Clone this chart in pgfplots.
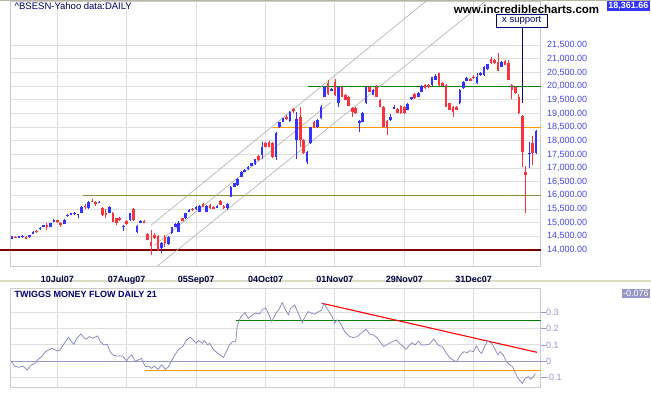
\documentclass[border=0pt]{standalone}
\usepackage{fontspec}
\setmainfont{Liberation Sans}
\usepackage{pgfplots}
\usepackage{pgfplotstable}
\pgfplotsset{compat=1.18}
\definecolor{cblue}{RGB}{51,51,255}
\definecolor{cred}{RGB}{250,51,60}
\definecolor{gridc}{RGB}{222,222,222}
\definecolor{axisc}{RGB}{205,205,205}
\definecolor{dred}{RGB}{128,0,0}
\definecolor{olivec}{RGB}{140,140,64}
\definecolor{orangec}{RGB}{255,153,0}
\definecolor{greenc}{RGB}{0,128,0}
\definecolor{chanc}{RGB}{175,175,175}
\definecolor{navyc}{RGB}{0,0,110}
\definecolor{datec}{RGB}{0,0,70}
\definecolor{ylabc}{RGB}{70,70,240}
\definecolor{mfc}{RGB}{130,130,190}
\definecolor{zeroc}{RGB}{150,150,205}
\definecolor{mflab}{RGB}{150,150,210}
\definecolor{tagc}{RGB}{150,150,200}
\definecolor{sepc}{RGB}{222,218,200}
\definecolor{topc}{RGB}{185,180,160}

% up candles: day open high low close
\pgfplotstableread{
d o h l c
-13 14415 14530 14400 14513
-11 14450 14515 14440 14500
-10 14465 14540 14455 14525
-8 14465 14550 14455 14535
-7 14585 14690 14570 14670
-5 14757 14840 14740 14818
-4 14842 14930 14830 14900
-2 14855 15000 14840 14977
-1 15025 15130 15010 15100
2 14965 15130 14950 15110
3 15233 15320 15220 15295
4 15280 15360 15265 15340
5 15305 15400 15290 15365
6 15270 15330 15160 15306
7 15365 15600 15340 15560
9 15525 15800 15500 15770
12 15735 15800 15720 15770
15 15365 15600 15350 15560
19 14830 14900 14710 14880
21 15100 15370 15080 15340
23 14670 14900 14640 14890
24 15000 15100 14990 15060
30 14060 14300 13880 14270
32 14220 14500 14200 14465
33 14610 14860 14600 14830
34 14855 14980 14840 14950
35 14670 15050 14650 15000
37 15160 15370 15140 15340
38 15400 15490 15380 15465
40 15490 15610 15470 15590
41 15405 15650 15390 15625
43 15405 15640 15390 15610
46 15540 15640 15520 15610
49 15525 15720 15460 15685
50 15955 16340 15940 16320
51 16320 16470 16300 16440
52 16380 16620 16360 16590
53 16685 16900 16670 16870
54 16870 16960 16850 16930
55 16955 17080 16940 17050
56 17090 17200 17070 17175
57 17150 17350 17130 17320
59 17480 17970 17320 17785
63 17420 18335 17300 18300
64 18490 18700 18470 18675
65 18700 18850 18680 18820
67 18740 19100 18700 19070
69 18030 19070 17320 18790
72 17235 17640 17150 17600
73 17930 18520 17900 18490
75 18490 18790 18470 18760
76 18820 19300 18800 19250
77 19620 19990 19600 19960
79 19840 19920 19820 19880
81 19370 20000 19250 19960
87 18660 18780 18330 18740
88 18700 19050 18680 19010
89 19370 20000 19350 19960
91 19680 19890 19660 19860
96 18760 18990 18740 18860
97 19180 19300 19160 19230
101 19130 19380 19110 19350
102 19520 19620 19500 19590
104 19620 19770 19600 19740
105 19800 20030 19780 20000
108 20040 20350 20020 20320
109 20230 20450 20210 20370
116 19370 19890 19350 19860
117 19920 20200 19900 20170
118 20200 20320 20180 20290
121 20100 20500 20080 20350
122 20410 20530 20390 20500
123 20410 20750 20390 20720
124 20620 20830 20600 20800
128 20720 20930 20700 20900
136 17520 17970 17000 17570
138 17540 18400 17520 18362
}\upt

% down candles
\pgfplotstableread{
d o h l c
-12 14488 14510 14430 14440
-9 14490 14500 14400 14420
-6 14710 14740 14640 14650
-3 14915 15000 14730 14830
0 15100 15110 15000 15015
1 14990 15040 14855 14915
8 15625 15685 15490 15560
10 15810 15870 15740 15750
11 15750 15780 15620 15685
13 15530 15560 15260 15280
14 15340 15490 15160 15280
16 15370 15400 15020 15040
17 15160 15190 14915 15000
18 15160 15220 15060 15100
20 15060 15090 14930 14950
22 15490 15530 15080 15100
25 15060 15090 14980 15000
26 14590 14620 14350 14370
27 14305 14730 13820 14150
28 14550 14610 14410 14430
29 14510 14540 13970 14000
31 14490 14550 14120 14245
36 15160 15190 15050 15075
39 15515 15540 15440 15465
42 15685 15710 15570 15590
44 15650 15680 15500 15525
45 15590 15620 15490 15515
47 15795 15830 15630 15650
48 15625 15650 15500 15525
58 17440 17490 17270 17295
60 17930 17960 17760 17785
61 17970 18000 17760 17785
62 17930 17960 17360 17420
66 18860 18960 18750 18790
68 19150 19210 19000 19090
70 18880 19220 17760 18030
71 18030 18060 17510 17540
74 18700 18730 18470 18490
78 20130 20230 19680 19700
80 20160 20280 19650 19680
82 19960 19990 19600 19620
83 19680 19710 19480 19500
84 19620 19650 19260 19280
85 19190 19220 18880 19070
86 19190 19220 18990 19010
90 19960 20000 19780 19800
92 19960 20050 19600 19620
93 19500 19530 19230 19250
94 19250 19280 18500 18520
95 18740 18770 18210 18520
98 19160 19190 19010 19030
99 19270 19300 18990 19010
100 19250 19280 18990 19010
103 19710 19740 19540 19560
106 20040 20070 19900 19920
107 20040 20070 19940 19960
110 20470 20500 20020 20040
111 20130 20160 19990 20010
112 20040 20070 19230 19250
113 19370 19400 19110 19130
114 19250 19280 18880 19070
115 19250 19280 19110 19130
119 20260 20300 20180 20200
120 20350 20420 20270 20290
125 20985 21080 20820 20840
126 20960 20990 20820 20840
127 20900 21230 20550 20570
129 20920 20950 20760 20780
130 20840 20960 20210 20230
131 20040 20070 19520 19860
132 19980 20020 19720 19740
133 19620 19720 18980 19000
134 18910 18940 17050 17600
135 16870 17080 15340 16750
137 17930 18170 17110 17540
}\dnt

% Twiggs money flow
\pgfplotstableread{
d v
-13.3 0
-12.3 -0.029
-11.1 -0.037
-9.9 -0.029
-8.7 -0.053
-7.5 -0.022
-6.3 -0.012
-5.7 0.008
-4.5 0.029
-3.4 0.059
-1.6 0.080
0.0 0.063
0.8 0.069
2.0 0.110
3.2 0.147
4.1 0.120
4.8 0.104
5.6 0.141
6.8 0.167
7.4 0.151
8.3 0.135
9.2 0.151
10.1 0.141
11.6 0.155
12.4 0.120
13.4 0.100
14.4 0.104
15.2 0.059
16.0 0.039
17.0 0.033
18.8 0.033
20.0 0.002
20.6 0.024
21.5 0.039
22.4 0
23.3 0.008
24.2 0.018
25.4 -0.033
26.3 -0.029
27.2 -0.043
28.0 -0.029
29.0 -0.049
30.1 -0.022
31.1 -0.049
31.9 -0.037
32.8 -0.002
33.7 0.033
34.9 0.073
36.1 0.090
37.3 0.131
38.3 0.147
39.1 0.131
40.0 0.110
40.7 0.127
41.8 0.110
42.3 0.127
43.3 0.100
43.9 0.110
45.1 0.069
46.3 0.049
47.9 0.024
48.7 0.059
49.6 0.100
50.5 0.120
51.4 0.120
51.9 0.222
52.9 0.273
54.1 0.298
55.0 0.263
56.2 0.284
57.1 0.294
58.3 0.290
59.1 0.318
60.1 0.324
61.0 0.284
61.8 0.243
63.0 0.294
63.9 0.318
64.8 0.359
65.8 0.314
66.6 0.284
67.2 0.324
68.4 0.345
69.4 0.294
70.6 0.237
71.4 0.273
72.3 0.304
73.2 0.294
74.2 0.288
75.0 0.300
76.2 0.314
76.8 0.355
78.0 0.314
79.2 0.273
79.9 0.233
80.6 0.253
81.6 0.233
82.8 0.182
84.0 0.155
85.2 0.145
86.4 0.151
87.3 0.167
88.2 0.182
89.0 0.196
90.0 0.167
91.2 0.161
92.3 0.141
93.3 0.110
94.1 0.090
95.3 0.106
96.5 0.120
97.7 0.131
98.6 0.110
99.5 0.094
100.5 0.073
101.3 0.094
102.2 0.114
103.1 0.100
104.1 0.124
104.9 0.100
106.1 0.100
107.3 0.106
108.5 0.137
109.7 0.100
110.9 0.090
112.1 0.049
113.3 0.018
114.5 0.002
115.1 -0.002
116.0 0.033
117.2 0.059
118.1 0.053
118.9 0.065
119.9 0.059
120.8 0.094
121.7 0.059
122.3 0.049
123.2 0.094
124.0 0.124
125.2 0.110
126.4 0.063
127.0 0.039
127.6 0.059
128.5 0.039
129.4 -0.002
130.4 -0.022
131.2 -0.033
131.8 -0.063
132.8 -0.104
134.0 -0.135
134.8 -0.104
135.7 -0.094
136.4 -0.110
137.2 -0.094
137.8 -0.076
}\mft

\pgfplotsset{
  wick/.style={only marks, mark=*, mark size=0pt, mark options={draw=none, fill=none}, forget plot,
    error bars/.cd, y dir=plus, y explicit, error mark=none,
    error bar style={#1, line width=0.8pt}},
  body/.style={only marks, mark=*, mark size=0pt, mark options={draw=none, fill=none}, forget plot,
    error bars/.cd, y dir=plus, y explicit, error mark=none,
    error bar style={#1, line width=2.6pt}},
}

\begin{document}
\begin{tikzpicture}
\useasboundingbox (0pt,0pt) rectangle (651pt,395pt);
\fill[white] (0pt,0pt) rectangle (651pt,395pt);
\fill[topc] (0pt,394pt) rectangle (651pt,395pt);
\fill[sepc] (0pt,113pt) rectangle (651pt,115pt);

% ---------------- price panel ----------------
\begin{axis}[
  at={(10.7pt,129pt)}, anchor=south west,
  scale only axis, width=530.1pt, height=265pt,
  xmin=-13.43, xmax=139.33, ymin=13414, ymax=23121,
  clip=false,
  axis line style={draw=axisc, line width=0.8pt},
  grid=major, grid style={draw=gridc, line width=0.9pt},
  xtick={0,20,40,60,80,100,120},
  xticklabels={10Jul07,07Aug07,05Sep07,04Oct07,01Nov07,29Nov07,31Dec07},
  ytick={14000,14500,15000,15500,16000,16500,17000,17500,18000,18500,19000,19500,20000,20500,21000,21500},
  yticklabels={{14,000.00},{14,500.00},{15,000.00},{15,500.00},{16,000.00},{16,500.00},{17,000.00},{17,500.00},{18,000.00},{18,500.00},{19,000.00},{19,500.00},{20,000.00},{20,500.00},{21,000.00},{21,500.00}},
  ytick pos=right, xtick pos=bottom,
  major tick length=0pt,
  tick style={draw=none},
  xticklabel style={font=\bfseries\fontsize{9}{10}\selectfont, text=datec, yshift=-6.5pt},
  yticklabel style={font=\fontsize{9}{10}\selectfont, text=ylabc, anchor=west, inner sep=0pt, xshift=6pt},
]
% support / resistance lines
\addplot[dred, line width=1.4pt] coordinates {(-16.51,14000) (139.33,14000)};
\addplot[olivec, line width=1.2pt] coordinates {(7.5,16000) (139.33,16000)};
\addplot[orangec, line width=1.2pt] coordinates {(62.2,18500) (139.33,18500)};
\addplot[greenc, line width=1.2pt] coordinates {(72.3,20000) (139.33,20000)};
% channel
\addplot[chanc, line width=0.6pt] coordinates {(27,14905) (106.3,23121)};
\addplot[chanc, line width=0.6pt] coordinates {(28,14168) (79,19429)};
\addplot[chanc, line width=0.6pt] coordinates {(28.85,13414) (123.4,23121)};
% candles
\addplot[wick=cblue] table[x=d, y=l, y error expr=\thisrow{h}-\thisrow{l}]{\upt};
\addplot[body=cblue] table[x=d, y=o, y error expr=\thisrow{c}-\thisrow{o}]{\upt};
\addplot[wick=cred] table[x=d, y=l, y error expr=\thisrow{h}-\thisrow{l}]{\dnt};
\addplot[body=cred] table[x=d, y=c, y error expr=\thisrow{o}-\thisrow{c}]{\dnt};
\end{axis}

% ---------------- money flow panel ----------------
\begin{axis}[
  at={(10.7pt,7.7pt)}, anchor=south west,
  scale only axis, width=530.1pt, height=99pt,
  xmin=-13.43, xmax=139.33, ymin=-0.159, ymax=0.4465,
  axis line style={draw=axisc, line width=0.8pt},
  grid=major, grid style={draw=gridc, line width=0.9pt},
  xtick={0,20,40,60,80,100,120}, xticklabels={},
  ytick={-0.1,0,0.1,0.2,0.3},
  yticklabels={-0.1,0,0.1,0.2,0.3},
  ytick pos=right, xtick pos=bottom,
  tick align=outside, major tick length=5pt,
  x tick style={draw=none},
  y tick style={draw=mflab, line width=0.8pt},
  yticklabel style={font=\fontsize{9}{10}\selectfont, text=mflab, anchor=west, inner sep=0pt, xshift=0pt},
]
\addplot[zeroc, line width=1.2pt] coordinates {(-13.43,0) (139.33,0)};
\addplot[greenc, line width=1.2pt] coordinates {(51.4,0.251) (139.33,0.251)};
\addplot[orangec, line width=1.2pt] coordinates {(25.4,-0.055) (139.33,-0.055)};
\addplot[red, line width=1.1pt] coordinates {(76.2,0.355) (138.2,0.055)};
\addplot[mfc, line width=0.7pt] table[x=d, y=v]{\mft};
\end{axis}

% ---------------- annotations ----------------
\node[anchor=west, text=navyc, font=\fontsize{9.5}{10}\selectfont, inner sep=0pt] at (14.5pt,388.5pt) {\textasciicircum BSESN-Yahoo data:DAILY};
\node[text=black, font=\bfseries\fontsize{11.5}{12}\selectfont, inner sep=0pt] at (526.5pt,386pt) {www.incrediblecharts.com};
\node[fill=cblue, text=white, font=\bfseries\fontsize{9}{10}\selectfont, inner sep=0pt, minimum width=43.3pt, minimum height=10pt] at (628.4pt,389pt) {18,361.66};
\draw[navyc, line width=0.9pt] (522.3pt,367.7pt) -- (522.3pt,292.3pt);
\node[draw=navyc, line width=0.9pt, fill=white, text=navyc, font=\fontsize{9.5}{10}\selectfont, inner sep=0pt, minimum width=51.3pt, minimum height=13.3pt] at (521.7pt,374.3pt) {x support};
\node[anchor=west, text=navyc, font=\bfseries\fontsize{9}{10}\selectfont, inner sep=0pt] at (14.5pt,101pt) {TWIGGS MONEY FLOW DAILY 21};
\node[fill=tagc, text=white, font=\fontsize{9}{10}\selectfont, inner sep=0pt, minimum width=28.3pt, minimum height=9pt] at (635.8pt,101.2pt) {-0.076};
\end{tikzpicture}
\end{document}
